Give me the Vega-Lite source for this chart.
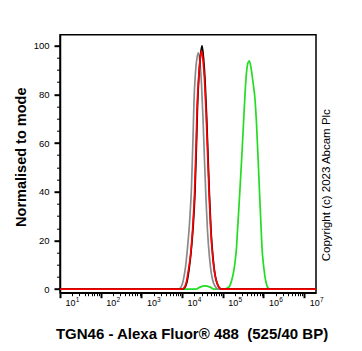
{
 "$schema": "https://vega.github.io/schema/vega-lite/v6.json",
 "autosize": "none",
 "width": 256, "height": 258,
 "padding": {"left": 60, "top": 34.7, "right": 46, "bottom": 58.3},
 "background": "white",
 "config": {"view": {"stroke": "black", "strokeWidth": 1.5}, "font": "Liberation Sans",
  "axis": {"grid": false, "domainColor": "black", "tickColor": "black", "labelColor": "black", "titleColor": "black", "labelFont": "Liberation Sans", "titleFont": "Liberation Sans", "labelFlush": false, "labelOverlap": false}},
 "data": {"values": [
  {"s":"green","x":10,"y":0},{"s":"green","x":21950,"y":0},{"s":"green","x":27540,"y":0.8},{"s":"green","x":36530,"y":1.3},{"s":"green","x":48480,"y":0.8},{"s":"green","x":60780,"y":0},{"s":"green","x":107000,"y":0},{"s":"green","x":134300,"y":0.5},{"s":"green","x":150300,"y":1.5},{"s":"green","x":168300,"y":4},{"s":"green","x":188400,"y":8},{"s":"green","x":199400,"y":11},{"s":"green","x":217100,"y":17},{"s":"green","x":229700,"y":24},{"s":"green","x":250000,"y":34},{"s":"green","x":272200,"y":45},{"s":"green","x":296300,"y":56},{"s":"green","x":322600,"y":68},{"s":"green","x":351200,"y":80},{"s":"green","x":382300,"y":89},{"s":"green","x":416100,"y":93},{"s":"green","x":447800,"y":93.8},{"s":"green","x":493100,"y":91},{"s":"green","x":552100,"y":85},{"s":"green","x":618300,"y":78},{"s":"green","x":673000,"y":68},{"s":"green","x":712200,"y":59},{"s":"green","x":745100,"y":51.7},{"s":"green","x":797500,"y":40},{"s":"green","x":868300,"y":26},{"s":"green","x":918700,"y":17},{"s":"green","x":988800,"y":10.7},{"s":"green","x":1088700,"y":5},{"s":"green","x":1185000,"y":2},{"s":"green","x":1290000,"y":0.5},{"s":"green","x":1444000,"y":0},{"s":"green","x":19500000,"y":0},
  {"s":"grey","x":10,"y":0},{"s":"grey","x":8163,"y":0},{"s":"grey","x":9139,"y":0.5},{"s":"grey","x":10810,"y":4},{"s":"grey","x":12130,"y":9},{"s":"grey","x":13590,"y":17},{"s":"grey","x":15210,"y":27},{"s":"grey","x":17020,"y":42},{"s":"grey","x":18530,"y":62},{"s":"grey","x":19590,"y":77},{"s":"grey","x":21330,"y":89},{"s":"grey","x":23230,"y":95},{"s":"grey","x":25290,"y":97},{"s":"grey","x":27540,"y":93},{"s":"grey","x":29990,"y":84},{"s":"grey","x":32660,"y":70},{"s":"grey","x":35480,"y":53},{"s":"grey","x":38640,"y":37},{"s":"grey","x":42080,"y":24},{"s":"grey","x":47100,"y":13},{"s":"grey","x":52730,"y":6},{"s":"grey","x":59160,"y":2.5},{"s":"grey","x":69990,"y":0.4},{"s":"grey","x":78350,"y":0},{"s":"grey","x":19500000,"y":0},
  {"s":"black","x":10,"y":0},{"s":"black","x":9950,"y":0},{"s":"black","x":11140,"y":0.3},{"s":"black","x":13180,"y":3},{"s":"black","x":14790,"y":8},{"s":"black","x":16560,"y":15},{"s":"black","x":18540,"y":25},{"s":"black","x":20750,"y":40},{"s":"black","x":22590,"y":60},{"s":"black","x":23880,"y":75},{"s":"black","x":26000,"y":88},{"s":"black","x":28310,"y":96},{"s":"black","x":30830,"y":100},{"s":"black","x":33570,"y":95},{"s":"black","x":36560,"y":86},{"s":"black","x":39810,"y":72},{"s":"black","x":43250,"y":55},{"s":"black","x":47100,"y":38},{"s":"black","x":51290,"y":24},{"s":"black","x":57410,"y":13},{"s":"black","x":64270,"y":6},{"s":"black","x":72110,"y":2.5},{"s":"black","x":85310,"y":0.3},{"s":"black","x":95500,"y":0},{"s":"black","x":19500000,"y":0},
  {"s":"red","x":10,"y":0},{"s":"red","x":9680,"y":0},{"s":"red","x":10840,"y":0.3},{"s":"red","x":12820,"y":3},{"s":"red","x":14390,"y":8},{"s":"red","x":16110,"y":14},{"s":"red","x":18040,"y":24},{"s":"red","x":20190,"y":39},{"s":"red","x":21980,"y":58},{"s":"red","x":23230,"y":73},{"s":"red","x":25300,"y":86},{"s":"red","x":27550,"y":94},{"s":"red","x":30000,"y":98},{"s":"red","x":32660,"y":94},{"s":"red","x":35570,"y":86},{"s":"red","x":38730,"y":73},{"s":"red","x":42080,"y":57},{"s":"red","x":45830,"y":40},{"s":"red","x":49900,"y":26},{"s":"red","x":55860,"y":14},{"s":"red","x":62530,"y":7},{"s":"red","x":70160,"y":3},{"s":"red","x":83000,"y":0.5},{"s":"red","x":92920,"y":0},{"s":"red","x":19500000,"y":0}
 ]},
 "layer": [
  {"transform": [{"filter": "datum.s === 'green'"}],
   "mark": {"type": "line", "color": "#22dd22", "strokeWidth": 1.7, "interpolate": "monotone", "clip": true},
   "encoding": {"x": {"field": "x", "type": "quantitative", "scale": {"type": "log", "domain": [10, 19500000], "nice": false}, "axis": null},
                "y": {"field": "y", "type": "quantitative", "scale": {"domain": [-1.5, 104.5], "nice": false, "zero": false}, "axis": null}}},
  {"transform": [{"filter": "datum.s === 'grey'"}],
   "mark": {"type": "line", "color": "#8a8a8a", "strokeWidth": 1.7, "interpolate": "monotone", "clip": true},
   "encoding": {"x": {"field": "x", "type": "quantitative", "scale": {"type": "log", "domain": [10, 19500000], "nice": false}, "axis": null},
                "y": {"field": "y", "type": "quantitative", "scale": {"domain": [-1.5, 104.5], "nice": false, "zero": false}, "axis": null}}},
  {"transform": [{"filter": "datum.s === 'black'"}],
   "mark": {"type": "line", "color": "#000000", "strokeWidth": 1.7, "interpolate": "monotone", "clip": true},
   "encoding": {"x": {"field": "x", "type": "quantitative", "scale": {"type": "log", "domain": [10, 19500000], "nice": false}, "axis": null},
                "y": {"field": "y", "type": "quantitative", "scale": {"domain": [-1.5, 104.5], "nice": false, "zero": false}, "axis": null}}},
  {"transform": [{"filter": "datum.s === 'red'"}],
   "mark": {"type": "line", "color": "#ff0000", "strokeWidth": 1.7, "interpolate": "monotone", "clip": true},
   "encoding": {"x": {"field": "x", "type": "quantitative", "scale": {"type": "log", "domain": [10, 19500000], "nice": false}, "axis": null},
                "y": {"field": "y", "type": "quantitative", "scale": {"domain": [-1.5, 104.5], "nice": false, "zero": false}, "axis": null}}},
  {"mark": {"type": "point", "opacity": 0},
   "encoding": {"x": {"field": "x", "type": "quantitative", "scale": {"type": "log", "domain": [10, 19500000], "nice": false},
                      "axis": {"orient": "bottom", "values": [10, 100, 1000, 10000, 100000, 1000000, 10000000], "labelExpr": "'10'", "labelFontSize": 9, "labelOffset": 10, "labelPadding": 1, "tickSize": 5, "tickWidth": 2, "domainWidth": 1.5,
                               "title": "TGN46 - Alexa Fluor® 488\u00a0 (525/40 BP)", "titleFontSize": 15, "titleFontWeight": "bold", "titleX": 131.5, "titleY": 45.5, "titleBaseline": "alphabetic", "titleAlign": "center"}},
                "y": {"field": "y", "type": "quantitative", "scale": {"domain": [-1.5, 104.5], "nice": false, "zero": false},
                      "axis": {"orient": "left", "values": [0, 20, 40, 60, 80, 100], "labelFontSize": 9.5, "labelPadding": 5, "tickSize": 6, "tickWidth": 2, "domainWidth": 1.5,
                               "title": "Normalised to mode", "titleFontSize": 14.5, "titleFontWeight": "bold", "titleAngle": 270, "titleX": -35, "titleY": 122, "titleBaseline": "alphabetic", "titleAlign": "center"}}}},
  {"mark": {"type": "point", "opacity": 0},
   "encoding": {"x": {"field": "x", "type": "quantitative", "scale": {"type": "log", "domain": [10, 19500000], "nice": false},
                      "axis": {"orient": "bottom", "values": [20,30,40,50,60,70,80,90,200,300,400,500,600,700,800,900,2000,3000,4000,5000,6000,7000,8000,9000,20000,30000,40000,50000,60000,70000,80000,90000,200000,300000,400000,500000,600000,700000,800000,900000,2000000,3000000,4000000,5000000,6000000,7000000,8000000,9000000], "labels": false, "tickSize": 3, "tickWidth": 1, "domain": false, "title": null}},
                "y": {"field": "y", "type": "quantitative", "scale": {"domain": [-1.5, 104.5], "nice": false, "zero": false},
                      "axis": {"orient": "left", "values": [5,10,15,25,30,35,45,50,55,65,70,75,85,90,95], "labels": false, "tickSize": 3.5, "tickWidth": 1, "domain": false, "title": null}}}},
  {"mark": {"type": "point", "opacity": 0},
   "encoding": {"x": {"field": "x", "type": "quantitative", "scale": {"type": "log", "domain": [10, 19500000], "nice": false},
                      "axis": {"orient": "bottom", "values": [10, 100, 1000, 10000, 100000, 1000000, 10000000], "labelExpr": "'' + round(log(datum.value) / LN10)", "labelFontSize": 6.5, "labelOffset": 17, "labelPadding": 4, "ticks": false, "tickSize": 0, "domain": false, "title": null}},
                "y": {"field": "y", "type": "quantitative", "scale": {"domain": [-1.5, 104.5], "nice": false, "zero": false},
                      "axis": {"orient": "right", "values": [], "labels": false, "ticks": false, "domain": false,
                               "title": "Copyright (c) 2023 Abcam Plc", "titleFontSize": 11.5, "titleFontWeight": "normal", "titleAngle": 270, "titleX": 13, "titleY": 150, "titleBaseline": "alphabetic", "titleAlign": "center"}}}}
 ],
 "resolve": {"axis": {"x": "independent", "y": "independent"}}
}
